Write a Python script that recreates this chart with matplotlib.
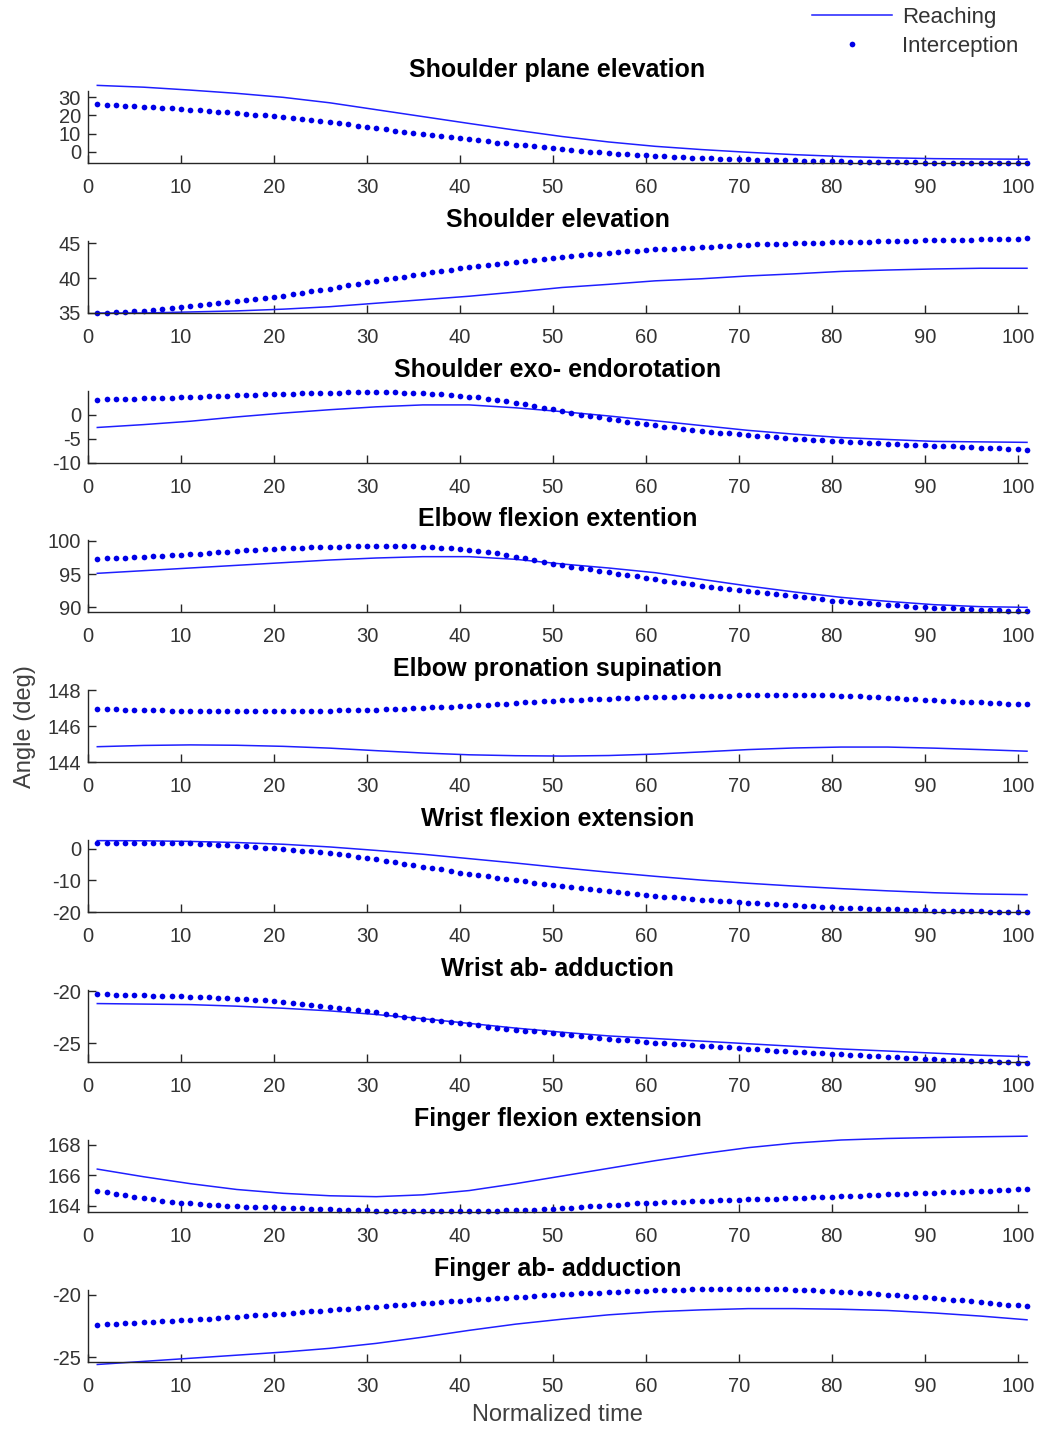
import matplotlib.pyplot as plt

# Normalized time: dots at every sample, solid traces every 5th sample
t_dots = list(range(1, 102))
t_line = list(range(1, 102, 5))

# ---- Shoulder plane elevation
shoulder_plane_reach = [36.6, 35.6, 34.0, 32.2, 30.0, 27.0, 23.2, 19.4, 15.6, 11.9, 8.4,
                        5.4, 3.0, 1.2, -0.3, -1.6, -2.6, -3.3, -3.8, -4.0, -4.1]
shoulder_plane_inter = [
    26.2, 26.0, 25.7, 25.4, 25.1, 24.8, 24.5, 24.2, 23.9, 23.6,
    23.2, 22.9, 22.5, 22.1, 21.7, 21.3, 20.9, 20.5, 20.2, 19.8,
    19.3, 18.8, 18.2, 17.6, 17.0, 16.4, 15.8, 15.1, 14.4, 13.6,
    13.0, 12.4, 11.7, 11.1, 10.5, 9.9, 9.3, 8.7, 8.1, 7.5,
    6.9, 6.3, 5.7, 5.1, 4.6, 4.0, 3.5, 3.0, 2.4, 1.9,
    1.4, 0.9, 0.5, 0.1, -0.3, -0.7, -1.0, -1.3, -1.6, -1.9,
    -2.2, -2.5, -2.7, -3.0, -3.2, -3.4, -3.6, -3.8, -3.9, -4.1,
    -4.2, -4.3, -4.4, -4.6, -4.7, -4.8, -4.9, -5.0, -5.1, -5.2,
    -5.3, -5.4, -5.4, -5.5, -5.6, -5.7, -5.7, -5.8, -5.9, -6.0,
    -6.0, -6.1, -6.1, -6.2, -6.2, -6.2, -6.3, -6.3, -6.3, -6.4, -6.4]

# ---- Shoulder elevation
shoulder_elev_reach = [35.0, 35.0, 35.15, 35.3, 35.55, 35.9, 36.4, 36.9, 37.4, 38.0, 38.65,
                       39.1, 39.6, 39.9, 40.3, 40.6, 40.95, 41.15, 41.3, 41.4, 41.4]
shoulder_elev_inter = [
    35.0, 35.05, 35.1, 35.15, 35.25, 35.35, 35.45, 35.55, 35.7, 35.9,
    36.0, 36.15, 36.3, 36.45, 36.6, 36.75, 36.9, 37.0, 37.15, 37.3,
    37.5, 37.7, 37.9, 38.1, 38.3, 38.5, 38.75, 38.95, 39.2, 39.4,
    39.6, 39.8, 40.0, 40.2, 40.4, 40.6, 40.8, 41.0, 41.2, 41.4,
    41.55, 41.7, 41.85, 42.0, 42.15, 42.3, 42.45, 42.6, 42.75, 42.9,
    43.0, 43.15, 43.25, 43.4, 43.5, 43.6, 43.7, 43.8, 43.9, 44.0,
    44.1, 44.15, 44.2, 44.3, 44.35, 44.45, 44.5, 44.55, 44.6, 44.7,
    44.75, 44.8, 44.8, 44.85, 44.9, 44.95, 45.0, 45.0, 45.05, 45.1,
    45.15, 45.15, 45.2, 45.2, 45.25, 45.3, 45.3, 45.35, 45.35, 45.4,
    45.4, 45.45, 45.45, 45.5, 45.5, 45.55, 45.55, 45.6, 45.6, 45.65, 45.7]

# ---- Shoulder exo- endorotation
shoulder_rot_reach = [-2.6, -2.0, -1.3, -0.4, 0.4, 1.1, 1.7, 2.1, 2.1, 1.5, 0.7,
                      -0.2, -1.2, -2.2, -3.2, -4.0, -4.7, -5.1, -5.5, -5.6, -5.7]
shoulder_rot_inter = [
    3.2, 3.25, 3.3, 3.35, 3.4, 3.45, 3.5, 3.55, 3.6, 3.7,
    3.75, 3.8, 3.9, 3.95, 4.0, 4.1, 4.15, 4.2, 4.3, 4.35,
    4.4, 4.45, 4.5, 4.55, 4.6, 4.6, 4.65, 4.7, 4.7, 4.7,
    4.7, 4.7, 4.7, 4.65, 4.6, 4.55, 4.45, 4.35, 4.2, 4.05,
    3.85, 3.65, 3.4, 3.15, 2.85, 2.55, 2.2, 1.85, 1.5, 1.15,
    0.8, 0.45, 0.1, -0.2, -0.5, -0.8, -1.1, -1.4, -1.65, -1.9,
    -2.15, -2.4, -2.6, -2.85, -3.05, -3.25, -3.45, -3.65, -3.8, -4.0,
    -4.15, -4.3, -4.45, -4.6, -4.75, -4.9, -5.0, -5.15, -5.25, -5.4,
    -5.5, -5.6, -5.7, -5.8, -5.9, -6.0, -6.1, -6.15, -6.25, -6.35,
    -6.4, -6.5, -6.55, -6.65, -6.7, -6.8, -6.85, -6.95, -7.0, -7.1, -7.2]

# ---- Elbow flexion extention
elbow_flex_reach = [95.1, 95.5, 95.9, 96.3, 96.7, 97.1, 97.4, 97.6, 97.6, 97.2, 96.5,
                    95.9, 95.2, 94.2, 93.2, 92.3, 91.5, 90.9, 90.4, 90.1, 90.0]
elbow_flex_inter = [
    97.3, 97.35, 97.4, 97.45, 97.5, 97.55, 97.65, 97.7, 97.8, 97.9,
    97.95, 98.05, 98.15, 98.25, 98.35, 98.45, 98.55, 98.6, 98.7, 98.8,
    98.85, 98.9, 98.95, 99.0, 99.05, 99.1, 99.1, 99.15, 99.2, 99.2,
    99.2, 99.2, 99.2, 99.2, 99.15, 99.1, 99.05, 98.95, 98.9, 98.8,
    98.65, 98.5, 98.3, 98.1, 97.85, 97.6, 97.35, 97.1, 96.8, 96.5,
    96.3, 96.1, 95.9, 95.7, 95.45, 95.25, 95.05, 94.85, 94.65, 94.4,
    94.2, 94.0, 93.8, 93.6, 93.45, 93.25, 93.1, 92.95, 92.8, 92.6,
    92.45, 92.3, 92.1, 91.95, 91.8, 91.65, 91.5, 91.35, 91.2, 91.0,
    90.9, 90.8, 90.7, 90.6, 90.5, 90.4, 90.3, 90.2, 90.1, 90.0,
    89.95, 89.9, 89.85, 89.8, 89.7, 89.65, 89.6, 89.55, 89.5, 89.45, 89.4]

# ---- Elbow pronation supination
elbow_pron_reach = [144.85, 144.92, 144.95, 144.93, 144.87, 144.77, 144.63, 144.5, 144.4,
                    144.35, 144.33, 144.36, 144.44, 144.56, 144.69, 144.78, 144.83,
                    144.83, 144.77, 144.69, 144.6]
elbow_pron_inter = [
    146.94, 146.93, 146.92, 146.91, 146.90, 146.89, 146.88, 146.87, 146.86, 146.85,
    146.85, 146.84, 146.84, 146.83, 146.83, 146.83, 146.83, 146.83, 146.83, 146.83,
    146.83, 146.84, 146.84, 146.85, 146.86, 146.86, 146.87, 146.88, 146.89, 146.90,
    146.91, 146.93, 146.95, 146.97, 146.99, 147.01, 147.03, 147.05, 147.08, 147.10,
    147.13, 147.16, 147.19, 147.22, 147.25, 147.28, 147.31, 147.34, 147.37, 147.40,
    147.42, 147.44, 147.46, 147.48, 147.50, 147.52, 147.54, 147.56, 147.58, 147.60,
    147.61, 147.62, 147.63, 147.64, 147.65, 147.66, 147.67, 147.68, 147.69, 147.70,
    147.71, 147.72, 147.72, 147.73, 147.73, 147.73, 147.72, 147.72, 147.71, 147.70,
    147.68, 147.66, 147.64, 147.62, 147.60, 147.57, 147.54, 147.51, 147.48, 147.45,
    147.43, 147.41, 147.38, 147.36, 147.34, 147.31, 147.29, 147.27, 147.24, 147.22, 147.20]

# ---- Wrist flexion extension
wrist_flex_reach = [2.6, 2.55, 2.35, 2.0, 1.45, 0.6, -0.5, -1.7, -3.1, -4.5, -6.0,
                    -7.4, -8.7, -9.9, -10.9, -11.8, -12.6, -13.3, -13.9, -14.3, -14.5]
wrist_flex_inter = [
    1.9, 2.0, 2.0, 2.0, 2.0, 2.0, 2.0, 1.95, 1.9, 1.85,
    1.75, 1.65, 1.5, 1.35, 1.2, 1.0, 0.8, 0.6, 0.4, 0.2,
    -0.05, -0.3, -0.55, -0.8, -1.1, -1.4, -1.75, -2.1, -2.5, -2.9,
    -3.35, -3.8, -4.25, -4.7, -5.15, -5.6, -6.05, -6.5, -7.0, -7.5,
    -7.9, -8.3, -8.7, -9.1, -9.5, -9.9, -10.3, -10.7, -11.1, -11.5,
    -11.8, -12.1, -12.4, -12.7, -13.0, -13.3, -13.6, -13.9, -14.25, -14.6,
    -14.85, -15.1, -15.35, -15.6, -15.85, -16.05, -16.25, -16.45, -16.65, -16.9,
    -17.05, -17.2, -17.35, -17.5, -17.65, -17.8, -17.95, -18.1, -18.3, -18.5,
    -18.6, -18.7, -18.8, -18.9, -19.0, -19.1, -19.2, -19.3, -19.4, -19.5,
    -19.55, -19.6, -19.65, -19.7, -19.75, -19.8, -19.85, -19.9, -19.95, -20.0, -20.1]

# ---- Wrist ab- adduction
wrist_abd_reach = [-21.2, -21.25, -21.3, -21.45, -21.65, -21.9, -22.25, -22.65, -23.1, -23.55,
                   -23.95, -24.3, -24.55, -24.8, -25.05, -25.3, -25.55, -25.75, -25.95,
                   -26.15, -26.3]
wrist_abd_inter = [
    -20.3, -20.3, -20.35, -20.35, -20.4, -20.4, -20.45, -20.45, -20.5, -20.5,
    -20.55, -20.55, -20.6, -20.65, -20.7, -20.75, -20.8, -20.85, -20.9, -20.95,
    -21.05, -21.15, -21.25, -21.35, -21.45, -21.55, -21.65, -21.75, -21.85, -21.95,
    -22.05, -22.2, -22.3, -22.45, -22.55, -22.65, -22.8, -22.9, -23.0, -23.1,
    -23.2, -23.3, -23.4, -23.5, -23.6, -23.7, -23.8, -23.85, -23.95, -24.05,
    -24.15, -24.25, -24.3, -24.4, -24.5, -24.55, -24.65, -24.7, -24.8, -24.9,
    -24.95, -25.0, -25.05, -25.1, -25.15, -25.25, -25.3, -25.35, -25.4, -25.5,
    -25.55, -25.6, -25.65, -25.7, -25.75, -25.8, -25.85, -25.9, -25.95, -26.0,
    -26.05, -26.1, -26.15, -26.2, -26.25, -26.3, -26.35, -26.4, -26.45, -26.5,
    -26.55, -26.6, -26.6, -26.65, -26.7, -26.7, -26.75, -26.8, -26.8, -26.85, -26.9]

# ---- Finger flexion extension
finger_flex_reach = [166.4, 165.9, 165.45, 165.07, 164.82, 164.66, 164.6, 164.72, 165.0, 165.45,
                     165.95, 166.45, 166.95, 167.4, 167.8, 168.1, 168.3, 168.4, 168.46,
                     168.51, 168.55]
finger_flex_inter = [
    165.0, 164.88, 164.78, 164.68, 164.58, 164.5, 164.42, 164.35, 164.28, 164.22,
    164.17, 164.12, 164.08, 164.04, 164.0, 163.97, 163.95, 163.93, 163.91, 163.9,
    163.88, 163.86, 163.84, 163.82, 163.8, 163.78, 163.76, 163.74, 163.72, 163.7,
    163.69, 163.68, 163.67, 163.66, 163.65, 163.65, 163.65, 163.65, 163.65, 163.65,
    163.66, 163.67, 163.68, 163.69, 163.7, 163.72, 163.74, 163.76, 163.78, 163.8,
    163.84, 163.88, 163.92, 163.96, 164.0, 164.04, 164.08, 164.12, 164.16, 164.2,
    164.22, 164.24, 164.26, 164.28, 164.3, 164.32, 164.34, 164.36, 164.38, 164.4,
    164.42, 164.44, 164.46, 164.48, 164.5, 164.52, 164.54, 164.56, 164.58, 164.6,
    164.62, 164.65, 164.67, 164.7, 164.72, 164.75, 164.77, 164.8, 164.82, 164.85,
    164.87, 164.89, 164.91, 164.93, 164.95, 164.97, 164.99, 165.02, 165.05, 165.08, 165.1]

# ---- Finger ab- adduction
finger_abd_reach = [-25.6, -25.35, -25.1, -24.85, -24.6, -24.3, -23.9, -23.4, -22.85, -22.35,
                    -21.95, -21.6, -21.35, -21.2, -21.1, -21.1, -21.15, -21.25, -21.45,
                    -21.7, -22.0]
finger_abd_inter = [
    -22.4, -22.36, -22.32, -22.28, -22.24, -22.2, -22.16, -22.12, -22.08, -22.05,
    -22.0, -21.95, -21.9, -21.85, -21.8, -21.75, -21.7, -21.65, -21.6, -21.55,
    -21.5, -21.45, -21.39, -21.33, -21.28, -21.22, -21.17, -21.11, -21.06, -21.0,
    -20.95, -20.89, -20.84, -20.78, -20.73, -20.67, -20.62, -20.56, -20.51, -20.45,
    -20.4, -20.35, -20.3, -20.26, -20.21, -20.17, -20.13, -20.09, -20.04, -20.0,
    -19.96, -19.92, -19.88, -19.84, -19.81, -19.77, -19.74, -19.71, -19.68, -19.65,
    -19.62, -19.6, -19.58, -19.56, -19.54, -19.53, -19.52, -19.51, -19.5, -19.5,
    -19.5, -19.51, -19.52, -19.53, -19.55, -19.57, -19.6, -19.63, -19.66, -19.7,
    -19.74, -19.78, -19.83, -19.88, -19.93, -19.98, -20.03, -20.08, -20.14, -20.2,
    -20.26, -20.32, -20.38, -20.44, -20.5, -20.56, -20.63, -20.7, -20.77, -20.84, -20.9]

titles = ["Shoulder plane elevation", "Shoulder elevation", "Shoulder exo- endorotation",
          "Elbow flexion extention", "Elbow pronation supination", "Wrist flexion extension",
          "Wrist ab- adduction", "Finger flexion extension", "Finger ab- adduction"]
reach_series = [shoulder_plane_reach, shoulder_elev_reach, shoulder_rot_reach,
                elbow_flex_reach, elbow_pron_reach, wrist_flex_reach,
                wrist_abd_reach, finger_flex_reach, finger_abd_reach]
inter_series = [shoulder_plane_inter, shoulder_elev_inter, shoulder_rot_inter,
                elbow_flex_inter, elbow_pron_inter, wrist_flex_inter,
                wrist_abd_inter, finger_flex_inter, finger_abd_inter]
y_ticks = [[0, 10, 20, 30], [35, 40, 45], [-10, -5, 0], [90, 95, 100], [144, 146, 148],
           [-20, -10, 0], [-25, -20], [164, 166, 168], [-25, -20]]
y_limits = [(-6.2, 33.5), (35, 45.3), (-10, 5), (89.3, 100.1), (144, 148),
            (-20, 2.8), (-26.8, -19.9), (163.6, 168.3), (-25.4, -19.6)]
x_ticks = list(range(0, 101, 10))

# -------------------------
# Figure layout (pixel based)
# -------------------------
W, H = 1042, 1429
plt.rcParams['font.family'] = ['Liberation Sans', 'DejaVu Sans']
plt.rcParams['axes.unicode_minus'] = False  # plain hyphen minus signs on the ticks
fig = plt.figure(figsize=(W / 100, H / 100), dpi=100)

ax_left, ax_width, ax_height = 88, 939, 72
ax_bottoms = [163, 313, 463, 612, 762, 912, 1062, 1212, 1362]
axis_grey = '#262626'

handles = None
for i in range(9):
    b = ax_bottoms[i]
    ax = fig.add_axes([ax_left / W, 1 - b / H, ax_width / W, ax_height / H])
    ln, = ax.plot(t_line, reach_series[i], color='#1f1fff', lw=1.1, clip_on=False)
    dots, = ax.plot(t_dots, inter_series[i], ls='none', marker='o', ms=4.1,
                    mew=0, color='#0000e6', clip_on=False)
    if handles is None:
        handles = [ln, dots]

    ax.set_xlim(0, 101)
    ax.set_ylim(*y_limits[i])
    ax.set_xticks(x_ticks)
    ax.set_yticks(y_ticks[i])
    ax.set_title(titles[i], fontsize=18, fontweight='bold', pad=10)

    for side in ('top', 'right'):
        ax.spines[side].set_visible(False)
    for side in ('left', 'bottom'):
        ax.spines[side].set_color(axis_grey)
        ax.spines[side].set_linewidth(1.0)
    ax.tick_params(direction='in', length=6, width=1, colors=axis_grey,
                   labelsize=14.5, labelcolor='#333333')
    ax.tick_params(axis='x', pad=11)
    ax.tick_params(axis='y', pad=5)

fig.text(557 / W, 1 - 1415 / H, "Normalized time", fontsize=17, color='#404040',
         ha='center', va='center')
fig.text(25 / W, 1 - 727 / H, "Angle (deg)", fontsize=17, color='#404040',
         rotation=90, ha='center', va='center')

fig.legend(handles, ["Reaching", "Interception"], loc='upper left',
           bbox_to_anchor=(812 / W, 1 - 7 / H), frameon=False, fontsize=16,
           handlelength=3.6, handletextpad=0.45, labelspacing=0.35,
           borderaxespad=0, borderpad=0, numpoints=1, labelcolor='#333333')

fig.savefig("out.png", dpi=100)
